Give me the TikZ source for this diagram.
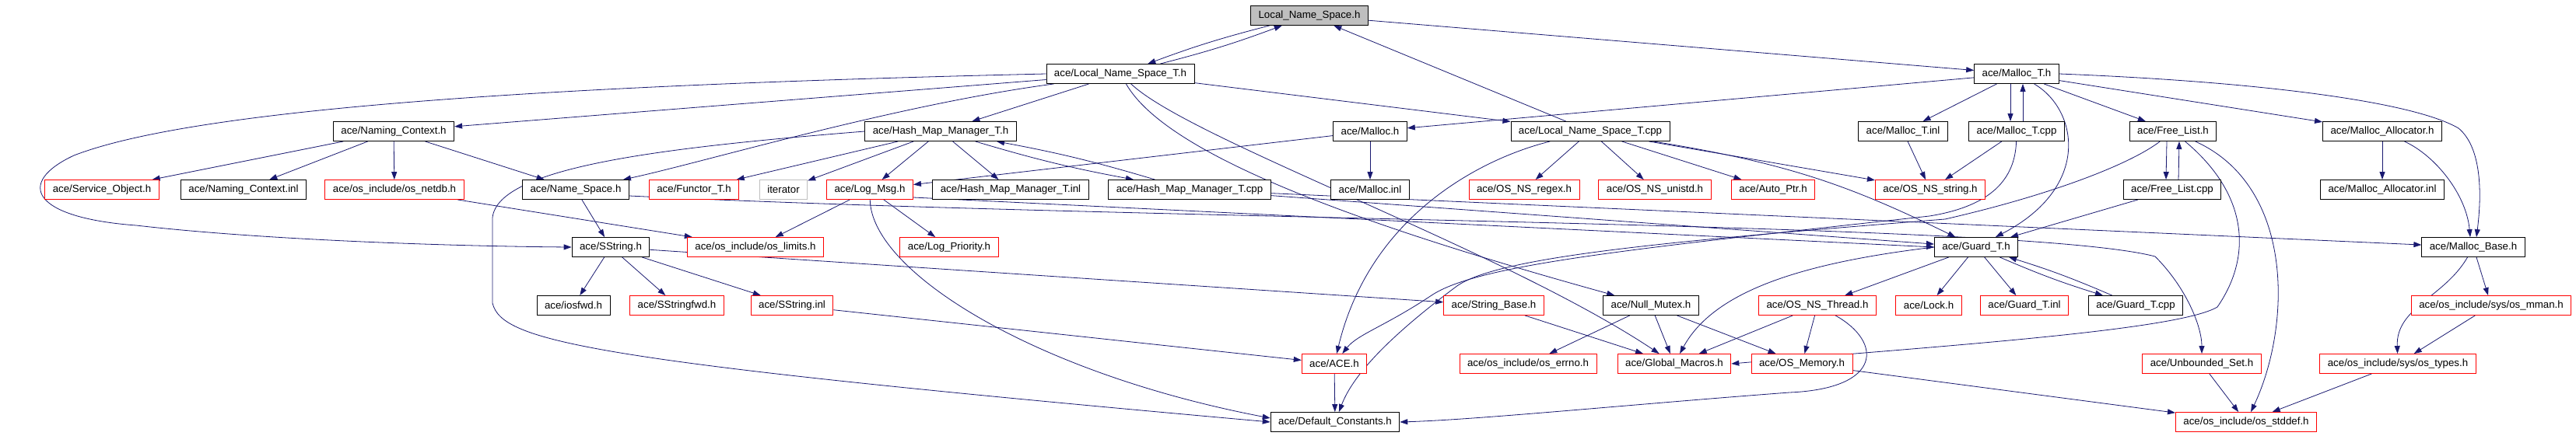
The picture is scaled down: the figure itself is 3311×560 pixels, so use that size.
\documentclass[tikz,border=0pt]{standalone}
\usepackage{fontspec}
\setmainfont{Liberation Sans}
\usepackage{xcolor}
\usetikzlibrary{arrows.meta}
\usetikzlibrary{backgrounds}

\definecolor{edgeblue}{RGB}{25,25,112}
\definecolor{hdrgray}{RGB}{191,191,191}

\begin{document}
\begin{tikzpicture}[x=1pt, y=-1pt,
  hdr/.style={draw=black, line width=0.9pt, fill=white, rectangle, minimum height=25pt, inner xsep=10pt, inner ysep=0pt, font=\fontsize{13.3}{15}\selectfont},
  hdrmiss/.style={hdr, draw=red},
  hdrext/.style={hdr, draw=hdrgray},
  hdrroot/.style={hdr, fill=hdrgray},
  incl/.style={-{Triangle[length=10pt,width=7pt]}, draw=edgeblue, line width=0.8pt}]
  \useasboundingbox (0,0) rectangle (3311,560);

  % Fila 0 y 1
  \node[hdrroot] (LNS) at (1683,20) {Local\_Name\_Space.h};
  \node[hdr] (LNST) at (1440,95) {ace/Local\_Name\_Space\_T.h};
  \node[hdr] (MallocT) at (2592,95) {ace/Malloc\_T.h};

  % Fila 2
  \node[hdr] (NamingCtx) at (506,169) {ace/Naming\_Context.h};
  \node[hdr] (HMM) at (1209,169) {ace/Hash\_Map\_Manager\_T.h};
  \node[hdr] (Malloc) at (1761,169) {ace/Malloc.h};
  \node[hdr] (LNSTcpp) at (2044,169) {ace/Local\_Name\_Space\_T.cpp};
  \node[hdr] (MallocTinl) at (2446,169) {ace/Malloc\_T.inl};
  \node[hdr] (MallocTcpp) at (2592,169) {ace/Malloc\_T.cpp};
  \node[hdr] (FreeList) at (2793,169) {ace/Free\_List.h};
  \node[hdr] (MallocAlloc) at (3062,169) {ace/Malloc\_Allocator.h};

  % Fila 3
  \node[hdrmiss] (SvcObj) at (131,244) {ace/Service\_Object.h};
  \node[hdr] (NamingCtxinl) at (313,244) {ace/Naming\_Context.inl};
  \node[hdrmiss] (OSnetdb) at (507,244) {ace/os\_include/os\_netdb.h};
  \node[hdr] (NameSpace) at (740,244) {ace/Name\_Space.h};
  \node[hdrmiss] (Functor) at (892,244) {ace/Functor\_T.h};
  \node[hdrext] (Iterator) at (1007,244) {iterator};
  \node[hdrmiss] (LogMsg) at (1118,244) {ace/Log\_Msg.h};
  \node[hdr] (HMMinl) at (1299,244) {ace/Hash\_Map\_Manager\_T.inl};
  \node[hdr] (HMMcpp) at (1529,244) {ace/Hash\_Map\_Manager\_T.cpp};
  \node[hdr] (Mallocinl) at (1761,244) {ace/Malloc.inl};
  \node[hdrmiss] (OSregex) at (1959,244) {ace/OS\_NS\_regex.h};
  \node[hdrmiss] (OSunistd) at (2127,244) {ace/OS\_NS\_unistd.h};
  \node[hdrmiss] (AutoPtr) at (2279,244) {ace/Auto\_Ptr.h};
  \node[hdrmiss] (OSstring) at (2481,244) {ace/OS\_NS\_string.h};
  \node[hdr] (FreeListcpp) at (2792,244) {ace/Free\_List.cpp};
  \node[hdr] (MallocAllocinl) at (3062,244) {ace/Malloc\_Allocator.inl};

  % Fila 4
  \node[hdr] (SString) at (785,318) {ace/SString.h};
  \node[hdrmiss] (OSlimits) at (971,318) {ace/os\_include/os\_limits.h};
  \node[hdrmiss] (LogPrio) at (1220,318) {ace/Log\_Priority.h};
  \node[hdr] (Guard) at (2540,318) {ace/Guard\_T.h};
  \node[hdr] (MallocBase) at (3179,318) {ace/Malloc\_Base.h};

  % Fila 5
  \node[hdr] (Iosfwd) at (737,393) {ace/iosfwd.h};
  \node[hdrmiss] (SStringfwd) at (870,393) {ace/SStringfwd.h};
  \node[hdrmiss] (SStringinl) at (1018,393) {ace/SString.inl};
  \node[hdrmiss] (StringBase) at (1920,393) {ace/String\_Base.h};
  \node[hdr] (NullMutex) at (2122,393) {ace/Null\_Mutex.h};
  \node[hdrmiss] (OSthread) at (2336,393) {ace/OS\_NS\_Thread.h};
  \node[hdrmiss] (Lock) at (2479,393) {ace/Lock.h};
  \node[hdrmiss] (Guardinl) at (2602,393) {ace/Guard\_T.inl};
  \node[hdr] (Guardcpp) at (2745,393) {ace/Guard\_T.cpp};
  \node[hdrmiss] (OSmman) at (3202,393) {ace/os\_include/sys/os\_mman.h};

  % Fila 6 y 7
  \node[hdrmiss] (ACE) at (1715,468) {ace/ACE.h};
  \node[hdrmiss] (OSerrno) at (1964,468) {ace/os\_include/os\_errno.h};
  \node[hdrmiss] (GlobalMacros) at (2152,468) {ace/Global\_Macros.h};
  \node[hdrmiss] (OSmemory) at (2316,468) {ace/OS\_Memory.h};
  \node[hdrmiss] (UnboundedSet) at (2830,468) {ace/Unbounded\_Set.h};
  \node[hdrmiss] (OStypes) at (3082,468) {ace/os\_include/sys/os\_types.h};
  \node[hdr] (DefConst) at (1716,543) {ace/Default\_Constants.h};
  \node[hdrmiss] (OSstddef) at (2887,543) {ace/os\_include/os\_stddef.h};

  \begin{scope}[on background layer]
  % Dependencias de la raiz
  \draw[incl] (LNS) to[bend right=3] (LNST);
  \draw[incl] (LNST) to[bend right=3] (LNS);
  \draw[incl] (LNSTcpp) -- (LNS);
  \draw[incl] (LNS) -- (MallocT);

  % Local_Name_Space_T.h
  \draw[incl] (LNST) -- (NamingCtx);
  \draw[incl] (LNST.west) .. controls (700,110) and (250,140) .. (95,200) .. controls (20,235) and (40,280) .. (175,290) .. controls (350,310) and (600,317) .. (SString.west);
  \draw[incl] ([xshift=10pt]LNST.south west) .. controls (1150,135) and (900,210) .. (NameSpace);
  \draw[incl] (LNST) -- (HMM);
  \draw[incl] (LNST) -- (LNSTcpp);
  \draw[incl] (LNST) .. controls (1500,200) and (1750,290) .. (NullMutex);
  \draw[incl] (LNST) .. controls (1530,180) and (1930,320) .. (GlobalMacros);

  % Malloc_T.h
  \draw[incl] (MallocT) -- (Malloc);
  \draw[incl] (MallocT) -- (MallocTinl);
  \draw[incl] ([xshift=-8pt]MallocT.south) -- ([xshift=-8pt]MallocTcpp.north);
  \draw[incl] ([xshift=8pt]MallocTcpp.north) -- ([xshift=8pt]MallocT.south);
  \draw[incl] (MallocT) -- (FreeList);
  \draw[incl] (MallocT) -- (MallocAlloc);
  \draw[incl] (MallocT.east) .. controls (2900,105) and (3100,130) .. (3160,165) .. controls (3190,190) and (3190,250) .. ([xshift=4pt]MallocBase.north);
  \draw[incl] (MallocT) .. controls (2670,140) and (2690,240) .. (Guard);

  % Naming_Context.h
  \draw[incl] (NamingCtx) -- (SvcObj);
  \draw[incl] (NamingCtx) -- (NamingCtxinl);
  \draw[incl] (NamingCtx) -- (OSnetdb);
  \draw[incl] (NamingCtx) -- (NameSpace);

  % Hash_Map_Manager_T.h
  \draw[incl] (HMM) -- (Functor);
  \draw[incl] (HMM) -- (Iterator);
  \draw[incl] (HMM) -- (LogMsg);
  \draw[incl] (HMM) -- (HMMinl);
  \draw[incl] (HMM) to[bend right=3] (HMMcpp);
  \draw[incl] (HMMcpp) to[bend right=3] (HMM);
  \draw[incl] (HMM.west) .. controls (850,190) and (640,215) .. (633,280) -- (633,390) .. controls (645,440) and (760,465) .. (DefConst.west);
  \draw[incl] (HMMcpp) -- (MallocBase);
  \draw[incl] (HMMcpp) -- (Guard);

  % Malloc.h y Local_Name_Space_T.cpp
  \draw[incl] (Malloc) -- (LogMsg);
  \draw[incl] (Malloc) -- (Mallocinl);
  \draw[incl] (LNSTcpp) -- (OSregex);
  \draw[incl] (LNSTcpp) -- (OSunistd);
  \draw[incl] (LNSTcpp) -- (AutoPtr);
  \draw[incl] (LNSTcpp) -- (OSstring);
  \draw[incl] (LNSTcpp) .. controls (2300,210) and (2380,240) .. (Guard);
  \draw[incl] (LNSTcpp) .. controls (1900,205) and (1760,280) .. (ACE);

  % Malloc_T.inl, Malloc_T.cpp, Free_List, Malloc_Allocator
  \draw[incl] (MallocTinl) -- (OSstring);
  \draw[incl] (MallocTcpp) -- (OSstring);
  \draw[incl] (MallocTcpp) .. controls (2590,230) and (2560,265) .. (2480,278) .. controls (2100,320) and (1900,340) .. (1840,380) .. controls (1780,420) and (1745,430) .. (ACE);
  \draw[incl] ([xshift=-8pt]FreeList.south) -- ([xshift=-8pt]FreeListcpp.north);
  \draw[incl] ([xshift=8pt]FreeListcpp.north) -- ([xshift=8pt]FreeList.south);
  \draw[incl] (FreeListcpp) -- (Guard);
  \draw[incl] (FreeList) .. controls (2740,210) and (2640,250) .. (2500,282) .. controls (2150,310) and (1920,330) .. (1870,370) .. controls (1790,430) and (1740,480) .. (DefConst);
  \draw[incl] (FreeList) .. controls (2890,250) and (2895,330) .. (2850,395) .. controls (2800,425) and (2500,445) .. (GlobalMacros.east);
  \draw[incl] (FreeList) .. controls (2950,240) and (2945,420) .. (OSstddef);
  \draw[incl] (MallocAlloc) -- (MallocAllocinl);
  \draw[incl] (MallocAlloc) .. controls (3130,200) and (3170,250) .. ([xshift=-4pt]MallocBase.north);

  % Fila 3
  \draw[incl] (OSnetdb) -- (OSlimits);
  \draw[incl] (NameSpace) -- (SString);
  \draw[incl] ([yshift=-8pt]NameSpace.east) .. controls (1500,285) and (2600,285) .. (2770,330) .. controls (2810,370) and (2830,420) .. (UnboundedSet);
  \draw[incl] (LogMsg) -- (OSlimits);
  \draw[incl] (LogMsg) -- (LogPrio);
  \draw[incl] (LogMsg) .. controls (1120,350) and (1330,480) .. ([yshift=5pt]DefConst.west);
  \draw[incl] ([yshift=-10pt]LogMsg.east) -- (Guard.west);

  % SString.h
  \draw[incl] (SString) -- (Iosfwd);
  \draw[incl] (SString) -- (SStringfwd);
  \draw[incl] (SString) -- (SStringinl);
  \draw[incl] (SString) -- (StringBase);
  \draw[incl] (SStringinl) -- (ACE);

  % Guard_T.h
  \draw[incl] (Guard) -- (OSthread);
  \draw[incl] (Guard) -- (Lock);
  \draw[incl] (Guard) -- (Guardinl);
  \draw[incl] (Guard) to[bend right=3] (Guardcpp);
  \draw[incl] (Guardcpp) to[bend right=3] (Guard);
  \draw[incl] (Guard.west) .. controls (2300,340) and (2200,380) .. (GlobalMacros);

  % Filas inferiores
  \draw[incl] (StringBase) -- (GlobalMacros);
  \draw[incl] (NullMutex) -- (OSerrno);
  \draw[incl] (NullMutex) -- (GlobalMacros);
  \draw[incl] (NullMutex) -- (OSmemory);
  \draw[incl] (OSthread) -- (GlobalMacros);
  \draw[incl] (OSthread) -- (OSmemory);
  \draw[incl] (OSthread) .. controls (2420,440) and (2420,500) .. (2300,505) .. controls (2100,520) and (1900,540) .. (DefConst.east);
  \draw[incl] (ACE) -- (DefConst);
  \draw[incl] (OSmemory) -- (OSstddef);
  \draw[incl] (UnboundedSet) -- (OSstddef);
  \draw[incl] (MallocBase) -- (OSmman);
  \draw[incl] (MallocBase) to[out=-120,in=92] (OStypes);
  \draw[incl] (OSmman) -- (OStypes);
  \draw[incl] (OStypes) -- (OSstddef);
  \end{scope}
\end{tikzpicture}
\end{document}
